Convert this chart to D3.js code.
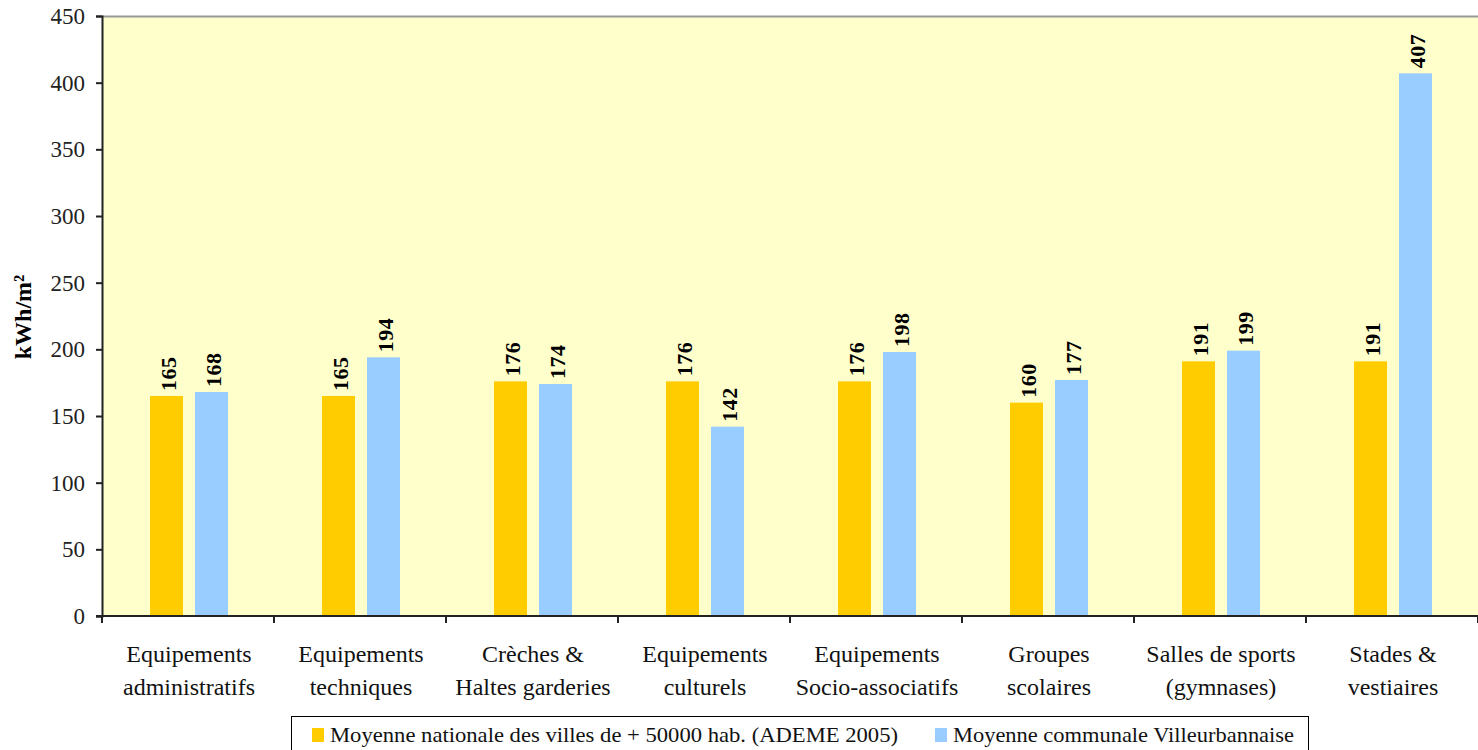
<!DOCTYPE html>
<html>
<head>
<meta charset="utf-8">
<script src="https://cdn.jsdelivr.net/npm/d3@7"></script>
<style>
  body { margin: 0; background: #fff; }
  text { font-family: "Liberation Serif", "DejaVu Serif", serif; }
</style>
</head>
<body>
<svg width="1478" height="750"></svg>
<script>
const categories = [
  ["Equipements", "administratifs"],
  ["Equipements", "techniques"],
  ["Crèches &", "Haltes garderies"],
  ["Equipements", "culturels"],
  ["Equipements", "Socio-associatifs"],
  ["Groupes", "scolaires"],
  ["Salles de sports", "(gymnases)"],
  ["Stades &", "vestiaires"]
];
const nationale = [165, 165, 176, 176, 176, 160, 191, 191];
const villeurbanne = [168, 194, 174, 142, 198, 177, 199, 407];
const seriesNames = ["Moyenne nationale des villes de + 50000 hab. (ADEME 2005)", "Moyenne communale Villeurbannaise"];
const colors = ["#FFCC00", "#99CCFF"];
const yTicks = [0, 50, 100, 150, 200, 250, 300, 350, 400, 450];

const svg = d3.select("svg");
const pL = 102, pR = 1478, pT = 16, pB = 616;

const x = d3.scaleBand().domain(d3.range(categories.length)).range([pL, pR]);
const y = d3.scaleLinear().domain([0, 450]).range([pB, pT]);

// plot background
svg.append("rect")
  .attr("x", pL).attr("y", pT)
  .attr("width", pR - pL).attr("height", pB - pT)
  .attr("fill", "#FFFFCC");
svg.append("line")
  .attr("x1", pL).attr("x2", pR).attr("y1", pT + 0.5).attr("y2", pT + 0.5)
  .attr("stroke", "#999").attr("stroke-width", 2);

// bars
const bw = 33, off0 = 48, off1 = 93;
const series = [nationale, villeurbanne];
series.forEach((vals, s) => {
  const g = svg.append("g");
  g.selectAll("rect").data(vals).join("rect")
    .attr("x", (d, i) => x(i) + (s ? off1 : off0))
    .attr("y", d => y(d))
    .attr("width", bw)
    .attr("height", d => pB - y(d))
    .attr("fill", colors[s]);
  g.selectAll("text").data(vals).join("text")
    .attr("transform", (d, i) => `translate(${x(i) + (s ? off1 : off0) + bw / 2 + 9},${y(d) - 5}) rotate(-90)`)
    .attr("font-size", 22).attr("font-weight", "bold").attr("letter-spacing", 0.5)
    .text(d => d);
});

// y axis
const yAxis = svg.append("g")
  .attr("transform", `translate(${pL},0)`)
  .call(d3.axisLeft(y).tickValues(yTicks).tickSize(6).tickPadding(11));
yAxis.select(".domain").attr("stroke", "#222").attr("stroke-width", 2);
yAxis.selectAll(".tick line").attr("stroke", "#222").attr("stroke-width", 2);
yAxis.selectAll("text").attr("font-size", 23).attr("fill", "#222")
  .style("font-family", "Liberation Serif, serif");

// x axis
const xb = d3.range(categories.length + 1).map(i => pL + i * x.bandwidth());
svg.append("line").attr("x1", pL - 6).attr("x2", pR).attr("y1", pB).attr("y2", pB)
  .attr("stroke", "#222").attr("stroke-width", 2);
svg.selectAll(".xtick").data(xb).join("line")
  .attr("x1", d => d).attr("x2", d => d).attr("y1", pB).attr("y2", pB + 7)
  .attr("stroke", "#222").attr("stroke-width", 2);

const xl = svg.append("g");
categories.forEach((lines, i) => {
  const cx = x(i) + x.bandwidth() / 2 + 1;
  const t = xl.append("text")
    .attr("x", cx)
    .attr("y", 662)
    .attr("text-anchor", "middle")
    .attr("font-size", 24).attr("fill", "#111");
  lines.forEach((l, k) => t.append("tspan")
    .attr("x", cx)
    .attr("dy", k ? 33 : 0).text(l));
});

// y label
svg.append("text")
  .attr("transform", "translate(31,317) rotate(-90)")
  .attr("text-anchor", "middle")
  .attr("font-size", 24).attr("font-weight", "bold")
  .text("kWh/m²");

// legend
const lg = svg.append("g");
lg.append("rect").attr("x", 291.5).attr("y", 716.5).attr("width", 1017).attr("height", 40)
  .attr("fill", "#fff").attr("stroke", "#000").attr("stroke-width", 1);
const lx = [312, 935];
const lw = [568, 341];
seriesNames.forEach((n, s) => {
  lg.append("rect").attr("x", lx[s]).attr("y", 728).attr("width", 12).attr("height", 14).attr("fill", colors[s]);
  lg.append("text").attr("x", lx[s] + 18).attr("y", 742).attr("font-size", 22).attr("fill", "#111")
    .attr("textLength", lw[s]).attr("lengthAdjust", "spacingAndGlyphs").text(n);
});
</script>
</body>
</html>
